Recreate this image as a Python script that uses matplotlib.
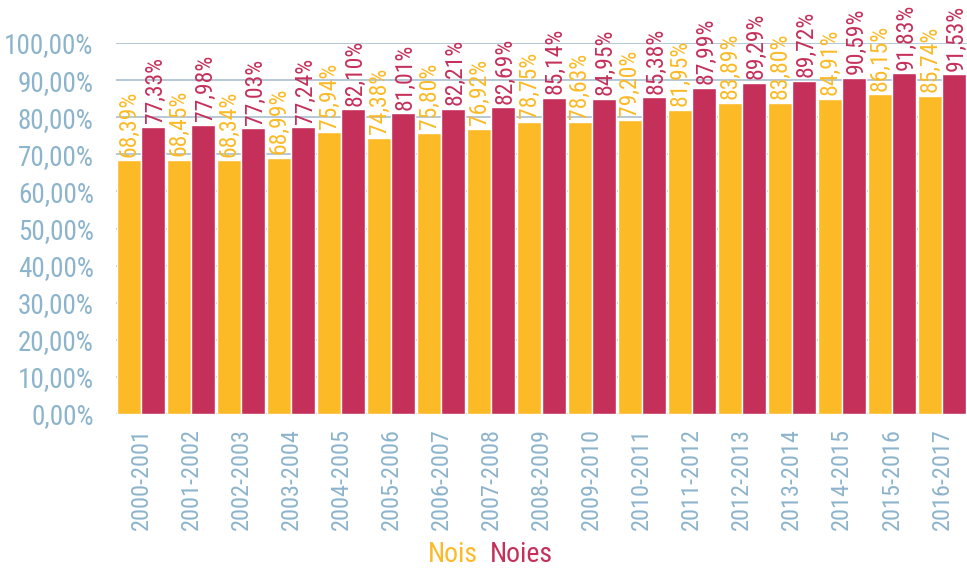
import matplotlib
matplotlib.use("Agg")
import matplotlib.pyplot as plt
import numpy as np

years = ["2000-2001", "2001-2002", "2002-2003", "2003-2004", "2004-2005", "2005-2006",
         "2006-2007", "2007-2008", "2008-2009", "2009-2010", "2010-2011", "2011-2012",
         "2012-2013", "2013-2014", "2014-2015", "2015-2016", "2016-2017"]
nois = [68.39, 68.45, 68.34, 68.99, 75.94, 74.38, 75.80, 76.92, 78.75, 78.63, 79.20,
        81.95, 83.89, 83.80, 84.91, 86.15, 85.74]
noies = [77.33, 77.98, 77.03, 77.24, 82.10, 81.01, 82.21, 82.69, 85.14, 84.95, 85.38,
         87.99, 89.29, 89.72, 90.59, 91.83, 91.53]
yticks = list(range(0, 101, 10))

plt.rcParams['font.family'] = ['Roboto Condensed', 'Liberation Sans', 'DejaVu Sans']

YEL = "#FBBA26"
RED = "#C5305B"
AX = "#8CB4CC"
GRID = "#A9BFCE"

fig = plt.figure(figsize=(9.67, 5.71), dpi=100)
ax = fig.add_axes([116/967, 1-414/571, 1-116/967, (414-43)/571])

x = np.arange(len(years))
w = 0.48
ax.bar(x - w/2, nois, w, color=YEL, edgecolor="white", linewidth=1, zorder=3)
ax.bar(x + w/2, noies, w, color=RED, edgecolor="white", linewidth=1, zorder=3)

def fmt(v):
    return f"{v:.2f}".replace(".", ",") + "%"

for xi, v in zip(x, nois):
    ax.text(xi - w/2, v + 1.0, fmt(v), rotation=90, ha="center", va="bottom",
            color=YEL, fontsize=17, clip_on=False, zorder=4)
for xi, v in zip(x, noies):
    ax.text(xi + w/2 + 0.04, v + 1.0, fmt(v), rotation=90, ha="center", va="bottom",
            color=RED, fontsize=17, clip_on=False, zorder=4)

ax.set_xlim(-0.5, len(years) - 0.5)
ax.set_ylim(0, 100)
ax.set_yticks(yticks)
ax.set_yticklabels([f"{t},00%" for t in yticks])
ax.set_xticks(x)
ax.set_xticklabels(years, rotation=90)
ax.tick_params(axis="y", length=0, pad=16, labelsize=19.5, labelcolor=AX)
ax.tick_params(axis="x", length=0, pad=10, labelsize=17.5, labelcolor=AX)
for s in ax.spines.values():
    s.set_visible(False)
ax.yaxis.grid(True, color=GRID, linewidth=1.2, zorder=0)
ax.set_axisbelow(True)

fig.text(453/967, 1-555/571, "Nois", color=YEL, fontsize=20, ha="center", va="center")
fig.text(521/967, 1-555/571, "Noies", color=RED, fontsize=20, ha="center", va="center")

fig.savefig("out.png", dpi=100)
